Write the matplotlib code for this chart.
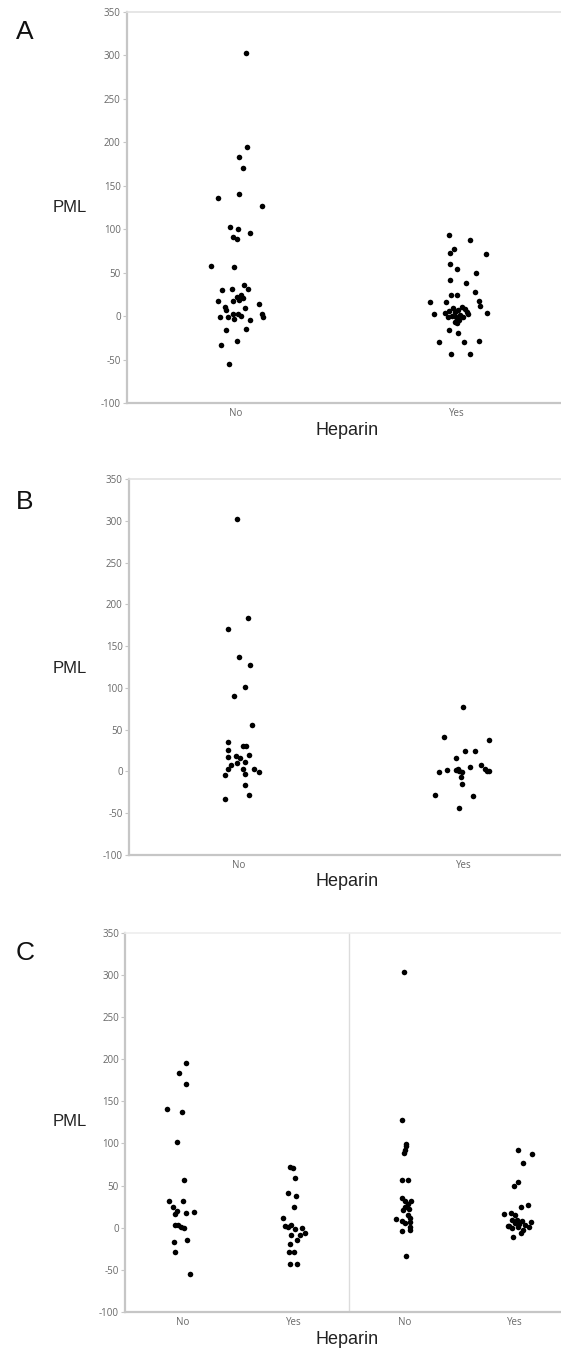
import matplotlib
matplotlib.use("Agg")
import matplotlib.pyplot as plt
import numpy as np

plt.rcParams['axes.unicode_minus'] = False

# ---- data (PML values, horizontal jitter in category units) ----
a_no_pml = [303, 195, 183.5, 170, 136, 140, 127,
            102.7, 100.4, 95.8, 91.1, 88.8, 57.6, 56.4, 29.9, 31.0, 35.6, 31.4,
            17.1, 10.2, 17.1, 21.8, 24.5, 21.4, 18.7, 14.4, 6.6, -1.0, -1.4, -2.9,
            2.5, 2.5, 0.2, 9.0, 2.1, -0.6, -4.4, -16.4, -14.8, -33.3, -28.3, -54.9]
a_no_jit = [0.044, 0.050, 0.015, 0.031, -0.083, 0.015, 0.120,
            -0.028, 0.010, 0.062, -0.013, 0.005, -0.114, -0.011, -0.063, -0.018, 0.037, 0.055,
            -0.080, -0.050, -0.013, 0.007, 0.024, 0.033, 0.016, 0.106, -0.044, -0.070, -0.034, -0.011,
            -0.015, 0.008, 0.023, 0.041, 0.117, 0.122, 0.065, -0.044, 0.044, -0.068, 0.003, -0.031]

a_yes_pml = [93.1, 87.3, 77.6, 72.6, 71.1, 59.9, 54.5, 49.5, 41.8, 37.9, 27.9, 24.8, 24.8,
             16.8, 16.8, 17.5, 11.7, 2.1, 3.6, -15.6, -19.1, -30.3, -29.9, -28.3, -43.4, -43.8,
             3.2, 6.3, 8.9, 5.1, 7.0, 10.9, 7.8, 5.1, 1.3, -1.4, 0.1, -0.7, -4.5, -6.4, 2.4, -1.4, -8.3]
a_yes_jit = [-0.034, 0.057, -0.011, -0.031, 0.130, -0.033, 0.0, 0.088, -0.031, 0.041, 0.083, -0.026, 0.002,
             -0.120, -0.050, 0.102, 0.106, -0.102, 0.138, -0.034, 0.007, -0.081, 0.031, 0.101, -0.029, 0.059,
             -0.055, -0.035, -0.020, -0.009, 0.006, 0.021, 0.036, 0.047, 0.014, -0.005, -0.024, 0.029, 0.011,
             -0.009, 0.052, -0.039, 0.002]

b_no_pml = [303.0, 183.6, 170.5, 137.1, 127.5, 101.2, 89.7, 55.6, 34.9, 25.8, 17.1, 30.2, 30.6,
            18.3, 15.9, 19.8, 10.7, 9.5, 7.5, 3.2, 2.4, 2.4, -0.8, -4.4, -3.6, -16.7, -28.2, -33.3]
b_no_jit = [-0.010, 0.038, -0.049, 0.0, 0.049, 0.027, -0.021, 0.057, -0.048, -0.048, -0.049, 0.016, 0.032,
            -0.014, 0.003, 0.043, 0.027, -0.011, -0.037, -0.049, 0.016, 0.065, 0.088, -0.064, 0.024, 0.024,
            0.043, -0.064]

b_yes_pml = [77.0, 40.9, 37.3, 24.2, 24.2, 16.3, -0.8, 1.6, 1.6, 3.2, 0.0, -1.2, 4.8, 7.5, 2.4,
             0.4, 0.0, -6.3, -15.5, -28.6, -30.2, -43.7]
b_yes_jit = [0.0, -0.085, 0.113, 0.006, 0.053, -0.033, -0.110, -0.073, -0.035, -0.024, -0.018, -0.005,
             0.029, 0.077, 0.096, 0.104, 0.112, -0.011, -0.008, -0.128, 0.041, -0.019]

c1_pml = [196.0, 183.8, 170.8, 141.4, 137.1, 102.0, 56.1, 32.0, 31.2, 24.1, 16.6, 20.1, 17.4, 18.6,
          3.2, 3.2, 0.8, -0.8, -16.6, -14.6, -28.5, -54.6]
c1_jit = [0.023, -0.039, 0.023, -0.149, -0.013, -0.055, 0.003, -0.129, -0.006, -0.091, -0.071, -0.058,
          0.029, 0.097, -0.078, -0.045, -0.023, 0.010, -0.087, 0.036, -0.074, 0.065]

c2_pml = [72.3, 70.4, 59.3, 41.5, 37.5, 24.1, 11.8, 2.4, 0.8, 3.2, -2.0, 0.0, -6.7, -9.1, -8.7,
          -15.0, -19.0, -29.3, -29.3, -43.1, -43.1]
c2_jit = [-0.032, -0.006, 0.010, -0.055, 0.019, 0.0, -0.097, -0.078, -0.055, -0.023, 0.013, 0.074,
          0.100, 0.052, -0.029, 0.026, -0.032, -0.045, 0.0, -0.036, 0.032]

c3_pml = [302.9, 127.5, 99.6, 96.4, 92.5, 88.5, 56.9, 56.1, 35.2, 32.0, 32.0, 28.4, 24.5, 22.5, 21.3,
          15.4, 11.5, 10.3, 7.5, 5.5, 6.3, 0.8, -3.2, -4.4, -33.2]
c3_jit = [-0.003, -0.019, 0.016, 0.010, 0.003, 0.0, -0.026, 0.029, -0.019, 0.006, 0.055, 0.029, 0.006,
          0.042, -0.010, 0.029, 0.049, -0.074, -0.026, 0.006, 0.049, 0.049, 0.049, -0.023, 0.016]

c4_pml = [92.5, 87.0, 76.3, 54.5, 49.8, 26.9, 24.5, 16.6, 17.4, 14.6, 9.5, 9.5, 8.3, 2.4, 5.5, 3.9,
          2.8, 6.3, 0.8, -0.4, -2.4, -6.3, -11.1, 1.6, 0.8]
c4_jit = [0.029, 0.149, 0.074, 0.029, -0.006, 0.120, 0.049, -0.097, -0.039, 0.0, -0.032, 0.016, 0.058,
          -0.065, 0.0, 0.039, 0.091, 0.142, 0.123, -0.026, 0.074, 0.049, -0.023, -0.058, 0.023]

y_ticks = [-100, -50, 0, 50, 100, 150, 200, 250, 300, 350]
cats_ab = ["No", "Yes"]
cats_c = ["No", "Yes", "No", "Yes"]

W, H = 561, 1353
fig = plt.figure(figsize=(W / 100, H / 100), dpi=100)

spine_col = "#c6c6c6"
tick_col = "#686868"
lab_font = "Liberation Sans"


def px(x, y):
    return x / W, 1 - y / H


def make_axes(left, top, bottom, xlim, cats):
    ax = fig.add_axes([left / W, 1 - bottom / H, 1 - left / W, (bottom - top) / H])
    ax.set_ylim(-100, 350)
    ax.set_xlim(*xlim)
    ax.set_yticks(y_ticks)
    ax.set_yticklabels([str(t) for t in y_ticks])
    ax.set_xticks(range(len(cats)))
    ax.set_xticklabels(cats)
    ax.tick_params(axis='y', length=3, width=0.8, color=spine_col, labelsize=7, labelcolor=tick_col, pad=1.5)
    ax.tick_params(axis='x', length=0, labelsize=7, labelcolor=tick_col, pad=3.5)
    for lab in ax.get_xticklabels() + ax.get_yticklabels():
        lab.set_family("Open Sans")
    ax.spines['right'].set_visible(False)
    ax.spines['left'].set_color(spine_col)
    ax.spines['left'].set_linewidth(1.6)
    ax.spines['bottom'].set_color(spine_col)
    ax.spines['bottom'].set_linewidth(1.6)
    ax.spines['top'].set_color("#e2e2e2")
    ax.spines['top'].set_linewidth(1.2)
    return ax


def dots(ax, pos, vals, jit):
    ax.scatter(pos + np.array(jit), vals, s=16, color="black", linewidths=0, zorder=3)


# Panel A
axA = make_axes(127, 12, 403, (-0.493, 1.471), cats_ab)
dots(axA, 0, a_no_pml, a_no_jit)
dots(axA, 1, a_yes_pml, a_yes_jit)

# Panel B
axB = make_axes(129, 479.3, 854.7, (-0.491, 1.435), cats_ab)
dots(axB, 0, b_no_pml, b_no_jit)
dots(axB, 1, b_yes_pml, b_yes_jit)

# Panel C
axC = make_axes(125.2, 932.7, 1312, (-0.524, 3.415), cats_c)
axC.spines['top'].set_color("#eeeeee")
axC.axvline(1.5, color="#dcdcdc", lw=1.0, zorder=1)
dots(axC, 0, c1_pml, c1_jit)
dots(axC, 1, c2_pml, c2_jit)
dots(axC, 2, c3_pml, c3_jit)
dots(axC, 3, c4_pml, c4_jit)

# labels
for letter, ly, pml_y, hep_y in [("A", 32, 207, 430), ("B", 502, 669, 882), ("C", 953, 1122, 1340)]:
    fig.text(*px(25, ly), letter, fontsize=19, family=lab_font, color="#111111", ha="center", va="center")
    fig.text(*px(70, pml_y), "PML", fontsize=12, family=lab_font, color="#222222", ha="center", va="center")
    fig.text(*px(347, hep_y), "Heparin", fontsize=13, family=lab_font, color="#222222", ha="center", va="center")

fig.savefig("out.png", dpi=100)
